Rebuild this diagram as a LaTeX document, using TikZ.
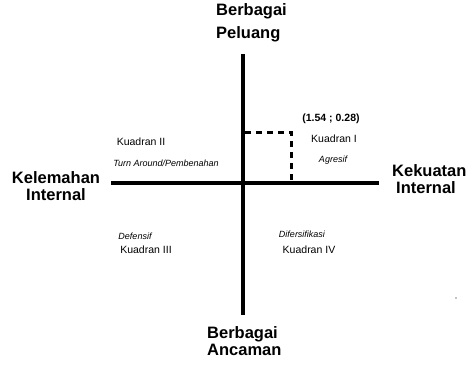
\documentclass[tikz,border=0pt]{standalone}
\usepackage{fontspec}
\setmainfont{Liberation Sans}
\begin{document}
\begin{tikzpicture}[x=1pt,y=-1pt,
  axis/.style={line width=4pt},
  guide/.style={line width=3pt,dash pattern=on 6pt off 5pt},
  biglabel/.style={font=\fontsize{16.5}{17.5}\selectfont\bfseries,align=left,inner sep=0pt,anchor=north west},
  quad/.style={font=\fontsize{10.5}{12}\selectfont,inner sep=0pt},
  note/.style={font=\fontsize{9}{10}\selectfont\itshape,inner sep=0pt}]
\useasboundingbox (0,0) rectangle (469,367);
% axes
\coordinate (top) at (243,54);
\coordinate (bot) at (243,315);
\coordinate (lft) at (111,183);
\coordinate (rgt) at (379,183);
\draw[axis] (top) -- (bot);
\draw[axis] (lft) -- (rgt);
% point guide
\coordinate (gy) at (245,132);
\coordinate (pt) at (291,132);
\coordinate (gx) at (291,183);
\draw[guide] (gy) -- (pt) -- (gx);
% axis labels
\node[biglabel,font=\fontsize{16.5}{23}\selectfont\bfseries] (peluang) at (216,3) {Berbagai\\Peluang};
\node[biglabel,align=center,anchor=north] (kelemahan) at (56,171) {Kelemahan\\Internal};
\node[biglabel] (kekuatan) at (392,164) {Kekuatan\\\hspace*{4pt}Internal};
\node[biglabel] (ancaman) at (207,326) {Berbagai\\Ancaman};
% quadrant labels
\node[quad,font=\fontsize{10.5}{12}\selectfont\bfseries] (coord) at (331,119) {(1.54 ; 0.28)};
\node[quad] (q1) at (334,139) {Kuadran I};
\node[note] (agresif) at (333,160) {Agresif};
\node[quad] (q2) at (141,142) {Kuadran II};
\node[note] (turn) at (166,163) {Turn Around/Pembenahan};
\node[note] (defensif) at (135,236) {Defensif};
\node[quad] (q3) at (146,250) {Kuadran III};
\node[note] (difer) at (302,234) {Difersifikasi};
\node[quad] (q4) at (309,250) {Kuadran IV};
\fill (456,298) circle (0.6pt);
\end{tikzpicture}
\end{document}
